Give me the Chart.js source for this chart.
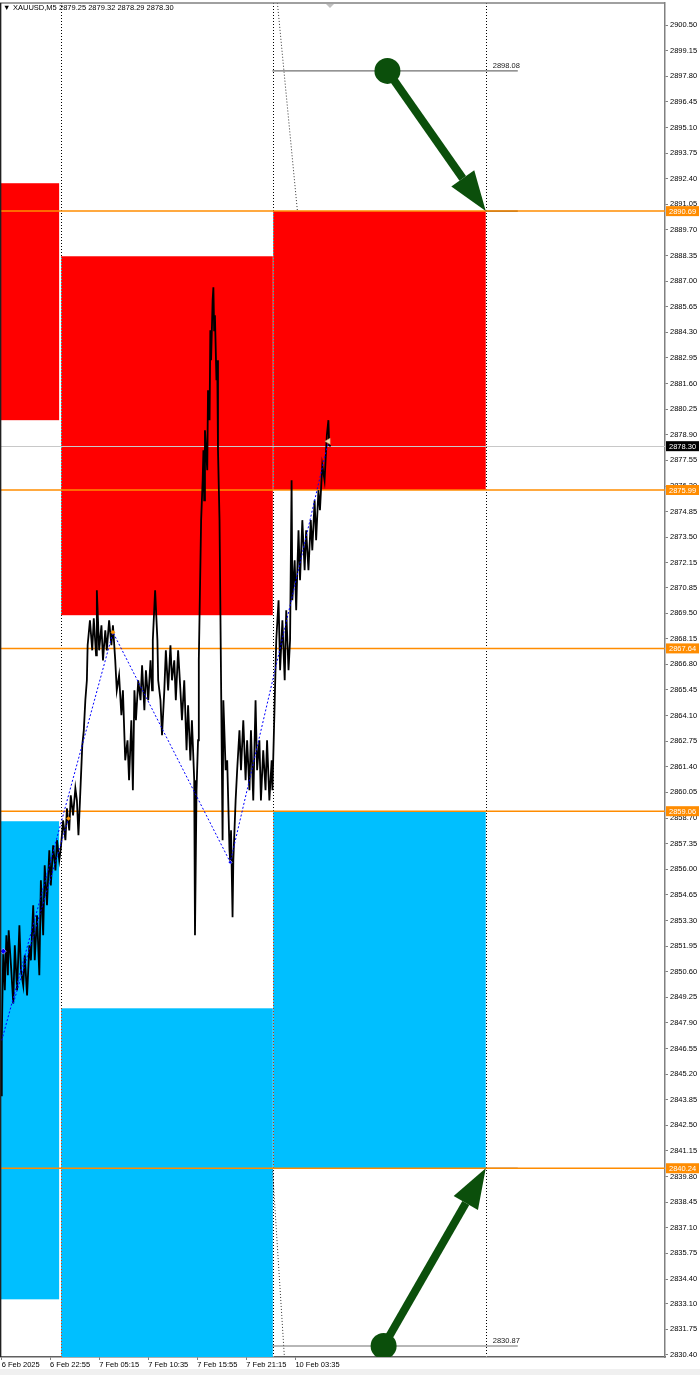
<!DOCTYPE html>
<html>
<head>
<meta charset="utf-8">
<script src="https://cdn.jsdelivr.net/npm/chart.js@4.4.1/dist/chart.umd.min.js"></script>
<style>
  html, body { margin: 0; padding: 0; background: #f0f0f0; }
  #wrap { width: 700px; height: 1375px; }
  canvas { display: block; }
</style>
</head>
<body>
<div id="wrap"><canvas id="chart" width="700" height="1369"></canvas></div>
<script>
  // XAUUSD M5, x = bar number counted from 6 Feb 22:55
  var symbolTitle = "XAUUSD,M5";
  var quoteText = "2879.25 2879.32 2878.29 2878.30";

  var timeTickBars   = [-63, 0, 64, 128, 192, 256, 320];
  var timeTickLabels = ["6 Feb 2025", "6 Feb 22:55", "7 Feb 05:15", "7 Feb 10:35", "7 Feb 15:55", "7 Feb 21:15", "10 Feb 03:35"];

  var priceTicks = [2900.50, 2899.15, 2897.80, 2896.45, 2895.10, 2893.75, 2892.40, 2891.05, 2889.70, 2888.35,
    2887.00, 2885.65, 2884.30, 2882.95, 2881.60, 2880.25, 2878.90, 2877.55, 2876.20, 2874.85, 2873.50, 2872.15,
    2870.85, 2869.50, 2868.15, 2866.80, 2865.45, 2864.10, 2862.75, 2861.40, 2860.05, 2858.70, 2857.35, 2856.00,
    2854.65, 2853.30, 2851.95, 2850.60, 2849.25, 2847.90, 2846.55, 2845.20, 2843.85, 2842.50, 2841.15, 2839.80,
    2838.45, 2837.10, 2835.75, 2834.40, 2833.10, 2831.75, 2830.40];

  var priceBars = [-64, -63, -62, -61, -59, -57, -55, -54, -51, -48, -46, -43, -40, -38, -35, -33, -30, -27, -25, -22,
    -20, -17, -14, -12, -9, -7, -4, -1, 1, 4, 7, 9, 12, 14, 17, 20, 22, 25, 27, 30, 33, 35, 37, 39, 42, 44, 46, 48, 49,
    52, 55, 57, 60, 61, 64, 67, 69, 72, 74, 77, 80, 82, 85, 87, 90, 93, 95, 98, 101, 103, 106, 108, 110, 112, 115,
    118, 120, 123, 125, 128, 131, 133, 134, 137, 140, 141, 144, 146, 149, 151, 154, 157, 159, 162, 164, 167, 170,
    172, 175, 178, 180, 183, 185, 188, 189, 191, 193, 194, 197, 199, 200, 201, 202, 205, 206, 208, 209, 210, 212,
    213, 214, 215, 217, 218, 219, 221, 222, 223, 225, 226, 229, 231, 234, 235, 236, 238, 239, 242, 244, 247, 249,
    252, 255, 257, 260, 262, 265, 268, 270, 273, 275, 278, 281, 283, 286, 289, 290, 293, 295, 298, 300, 303, 306,
    308, 311, 313, 315, 316, 319, 321, 324, 326, 329, 332, 334, 337, 340, 342, 345, 347, 350, 352, 355, 358, 361,
    363, 364, 366];
  var priceVals = [2844.08, 2846.98, 2849.62, 2851.73, 2849.62, 2852.52, 2850.41, 2852.78, 2850.94, 2848.93,
    2851.99, 2849.62, 2853.04, 2850.67, 2849.88, 2851.46, 2849.35, 2851.99, 2851.20, 2854.10, 2851.20, 2853.57,
    2850.41, 2855.42, 2852.52, 2856.21, 2854.10, 2857.00, 2855.15, 2857.26, 2855.94, 2857.53, 2856.47, 2857.10,
    2858.58, 2857.53, 2859.21, 2858.05, 2859.90, 2858.84, 2860.27, 2859.63, 2857.79, 2859.63, 2862.53, 2863.32,
    2864.91, 2865.96, 2867.81, 2869.12, 2867.54, 2869.23, 2867.28, 2870.71, 2867.54, 2868.86, 2867.01, 2868.60,
    2867.54, 2869.12, 2867.81, 2868.86, 2867.01, 2865.43, 2866.22, 2864.12, 2865.43, 2861.74, 2862.80, 2860.69,
    2863.85, 2860.16, 2865.43, 2863.85, 2865.96, 2864.91, 2866.75, 2864.38, 2866.49, 2864.91, 2867.01, 2865.43,
    2868.07, 2870.71, 2868.07, 2865.96, 2864.91, 2863.06, 2865.43, 2867.54, 2865.43, 2867.81, 2865.96, 2867.01,
    2864.91, 2867.54, 2865.43, 2863.85, 2865.96, 2862.27, 2864.64, 2861.74, 2863.85, 2860.69, 2852.52, 2860.16,
    2862.80, 2867.01, 2874.40, 2876.50, 2878.09, 2875.45, 2879.14, 2877.03, 2881.25, 2879.67, 2884.41, 2882.83,
    2885.99, 2886.68, 2884.41, 2885.20, 2881.78, 2882.83, 2878.09, 2874.40, 2870.18, 2865.96, 2857.53, 2864.91,
    2861.22, 2861.74, 2857.00, 2856.37, 2858.05, 2853.47, 2856.47, 2859.63, 2861.22, 2863.32, 2861.22, 2863.85,
    2860.69, 2862.80, 2860.16, 2863.32, 2859.63, 2864.91, 2861.22, 2862.80, 2859.63, 2862.27, 2860.16, 2862.80,
    2859.63, 2861.74, 2860.16, 2864.91, 2868.07, 2870.18, 2866.49, 2869.12, 2865.96, 2869.65, 2866.49, 2868.07,
    2876.50, 2870.18, 2872.29, 2869.65, 2873.87, 2871.23, 2874.40, 2871.76, 2873.87, 2871.76, 2874.40, 2872.81,
    2875.45, 2873.34, 2875.98, 2874.92, 2877.30, 2876.50, 2878.88, 2879.67, 2878.35, 2878.30];

  // zigzag swings
  var zigBars = [-63, 82, 235, 363];
  var zigVals = [2846.98, 2868.49, 2856.37, 2878.56];
  var zig2Bars = [-48, 24];
  var zig2Vals = [2848.93, 2858.68];

  // supply / demand zones
  var zoneFrom = [-70, 14.4, 291, -70, 14.4, 291];
  var zoneTo   = [11.8, 290.5, 568.2, 11.8, 290.5, 568.2];
  var zoneHigh = [2892.16, 2888.31, 2890.69, 2858.53, 2848.67, 2859.06];
  var zoneLow  = [2879.67, 2869.39, 2875.99, 2833.33, 2825.00, 2840.24];
  var zoneKind = ["supply", "supply", "supply", "demand", "demand", "demand"];

  var levelPrices = [2890.69, 2875.99, 2867.64, 2859.06, 2840.24];
  var lastPrice = 2878.30;
  var separatorBars = [14.4, 291.3, 568.2];

  var targetPrices = [2898.08, 2830.87];
  var targetFrom = 290;
  var targetTo = 610;
  var arrowStartBars = [440, 435];
  var arrowEndBars = [568.2, 568.2];
  var arrowEndPrices = [2890.69, 2840.24];

  var zoneColors = { supply: "#ff0000", demand: "#00bfff" };
  var FAMILY = "'Liberation Sans', Arial, sans-serif";
  var FONT = "7.5px " + FAMILY;

  function pts(xs, ys) {
    return xs.map(function(v, i) { return { x: v, y: ys[i] }; });
  }

  var mtObjects = {
    id: 'mtObjects',
    beforeDraw: function(chart) {
      var ctx = chart.ctx;
      ctx.save();
      ctx.fillStyle = '#ffffff';
      ctx.fillRect(0, 0, chart.width, chart.height);
      ctx.restore();
    },
    beforeDatasetsDraw: function(chart) {
      var ctx = chart.ctx, a = chart.chartArea, x = chart.scales.x, y = chart.scales.y;
      ctx.save();
      ctx.beginPath();
      ctx.rect(a.left, a.top, a.right - a.left, a.bottom - a.top);
      ctx.clip();

      // zones
      zoneFrom.forEach(function(f, i) {
        var x1 = x.getPixelForValue(f), x2 = x.getPixelForValue(zoneTo[i]);
        var y1 = y.getPixelForValue(zoneHigh[i]), y2 = y.getPixelForValue(zoneLow[i]);
        ctx.fillStyle = zoneColors[zoneKind[i]];
        ctx.fillRect(x1, y1, x2 - x1, y2 - y1);
      });

      // last price line
      var ly = Math.round(y.getPixelForValue(lastPrice)) + 0.5;
      ctx.strokeStyle = '#c8c8c8';
      ctx.lineWidth = 1;
      ctx.beginPath(); ctx.moveTo(a.left, ly); ctx.lineTo(a.right, ly); ctx.stroke();

      // dotted separators (xor look)
      ctx.globalCompositeOperation = 'difference';
      ctx.strokeStyle = '#ffffff';
      ctx.setLineDash([1, 2]);
      separatorBars.forEach(function(b) {
        var sx = Math.round(x.getPixelForValue(b)) + 0.5;
        ctx.beginPath(); ctx.moveTo(sx, a.top); ctx.lineTo(sx, a.bottom); ctx.stroke();
      });
      ctx.globalCompositeOperation = 'source-over';

      // fibo-ish diagonals
      ctx.strokeStyle = '#333333';
      ctx.beginPath();
      ctx.moveTo(x.getPixelForValue(296.5), a.top);
      ctx.lineTo(x.getPixelForValue(322.6), y.getPixelForValue(2890.69));
      ctx.moveTo(x.getPixelForValue(290), y.getPixelForValue(2840.24));
      ctx.lineTo(x.getPixelForValue(305.6), a.bottom);
      ctx.stroke();
      ctx.setLineDash([]);

      // target lines
      ctx.strokeStyle = '#707070';
      ctx.lineWidth = 1.2;
      targetPrices.forEach(function(p) {
        var ty = y.getPixelForValue(p);
        ctx.beginPath(); ctx.moveTo(x.getPixelForValue(targetFrom), ty); ctx.lineTo(x.getPixelForValue(targetTo), ty); ctx.stroke();
      });
      ctx.strokeStyle = '#303030';
      [levelPrices[0], levelPrices[4]].forEach(function(p) {
        var ty = y.getPixelForValue(p);
        ctx.beginPath(); ctx.moveTo(x.getPixelForValue(arrowEndBars[0]), ty); ctx.lineTo(x.getPixelForValue(targetTo), ty); ctx.stroke();
      });

      // orange levels
      ctx.strokeStyle = '#ff8c00';
      ctx.lineWidth = 1.5;
      levelPrices.forEach(function(p) {
        var oy = y.getPixelForValue(p);
        ctx.beginPath(); ctx.moveTo(a.left, oy); ctx.lineTo(a.right, oy); ctx.stroke();
      });
      ctx.restore();
    },
    afterDatasetsDraw: function(chart) {
      var ctx = chart.ctx, a = chart.chartArea, x = chart.scales.x, y = chart.scales.y;
      ctx.save();
      ctx.beginPath();
      ctx.rect(a.left, a.top, a.right - a.left, a.bottom - a.top);
      ctx.clip();

      // target labels
      ctx.font = FONT;
      ctx.fillStyle = '#202020';
      ctx.textBaseline = 'bottom';
      targetPrices.forEach(function(p) {
        ctx.fillText(p.toFixed(2), x.getPixelForValue(arrowEndBars[0]) + 7, y.getPixelForValue(p) - 1);
      });

      // green arrows
      targetPrices.forEach(function(p, i) {
        var sx = x.getPixelForValue(arrowStartBars[i]), sy = y.getPixelForValue(p);
        var ex = x.getPixelForValue(arrowEndBars[i]), ey = y.getPixelForValue(arrowEndPrices[i]);
        var ang = Math.atan2(ey - sy, ex - sx);
        var headLen = 40, headW = 14;
        var bx = ex - Math.cos(ang) * headLen, by = ey - Math.sin(ang) * headLen;
        ctx.fillStyle = '#0b4f0b';
        ctx.strokeStyle = '#0b4f0b';
        ctx.lineWidth = 8;
        ctx.lineCap = 'butt';
        ctx.beginPath(); ctx.moveTo(sx, sy); ctx.lineTo(bx, by); ctx.stroke();
        ctx.beginPath();
        ctx.moveTo(ex, ey);
        ctx.lineTo(bx + Math.sin(ang) * headW, by - Math.cos(ang) * headW);
        ctx.lineTo(bx - Math.sin(ang) * headW, by + Math.cos(ang) * headW);
        ctx.closePath(); ctx.fill();
        ctx.beginPath(); ctx.arc(sx, sy, 13, 0, Math.PI * 2); ctx.fill();
      });
      ctx.restore();

      // header
      ctx.save();
      ctx.font = FONT;
      ctx.fillStyle = '#000000';
      ctx.textBaseline = 'middle';
      ctx.fillText('\u25BC', 3, 8);
      ctx.fillText(symbolTitle, 13, 8);
      ctx.fillText(quoteText, 59, 8);
      ctx.fillStyle = '#c0c0c0';
      ctx.beginPath();
      ctx.moveTo(326, a.top + 1); ctx.lineTo(334, a.top + 1); ctx.lineTo(330, a.top + 5); ctx.closePath(); ctx.fill();
      ctx.restore();
    },
    afterDraw: function(chart) {
      var ctx = chart.ctx, a = chart.chartArea, y = chart.scales.y;
      ctx.save();
      // frame
      ctx.strokeStyle = '#808080';
      ctx.lineWidth = 1.5;
      ctx.beginPath(); ctx.moveTo(0, a.top); ctx.lineTo(a.right, a.top); ctx.stroke();
      ctx.strokeStyle = '#202020';
      ctx.beginPath(); ctx.moveTo(0.6, a.top); ctx.lineTo(0.6, a.bottom); ctx.stroke();

      // price boxes on the axis
      ctx.font = FONT;
      ctx.textBaseline = 'middle';
      function box(p, bg) {
        var by = y.getPixelForValue(p);
        ctx.fillStyle = bg;
        ctx.fillRect(a.right + 1, by - 5, 33, 10);
        ctx.fillStyle = '#ffffff';
        ctx.fillText(p.toFixed(2), a.right + 4, by + 0.5);
      }
      levelPrices.forEach(function(p) { box(p, '#ff8c00'); });
      box(lastPrice, '#000000');
      ctx.restore();
    }
  };

  var ctx = document.getElementById('chart').getContext('2d');
  var chart = new Chart(ctx, {
    type: 'line',
    data: {
      datasets: [
        {
          data: pts(priceBars, priceVals),
          borderColor: '#000000',
          borderWidth: 1.8,
          pointRadius: 0,
          tension: 0,
          order: 3
        },
        {
          data: pts(zigBars, zigVals),
          borderColor: '#0000ff',
          borderWidth: 1,
          borderDash: [2, 2],
          pointRadius: 0,
          order: 2
        },
        {
          data: pts(zig2Bars, zig2Vals),
          borderColor: '#0000ff',
          borderWidth: 1,
          borderDash: [2, 2],
          pointRadius: 0,
          order: 2
        },
        {
          type: 'scatter',
          data: [
            { x: -61, y: 2851.68 }, { x: 24, y: 2858.68 }, { x: 82, y: 2868.49 },
            { x: 235, y: 2856.37 }, { x: 363, y: 2878.56 }
          ],
          pointStyle: ['rectRot', 'rectRot', 'rectRot', 'rectRot', 'triangle'],
          rotation: [0, 0, 0, 0, -90],
          pointRadius: [3, 2, 2, 2, 3.5],
          backgroundColor: ['#0000ff', '#ff9900', '#ff9900', '#0000ff', '#f5deb3'],
          borderColor: ['#ffffff', '#ff9900', '#ff9900', '#ffffff', '#c8a870'],
          borderWidth: 0.5,
          order: 1
        }
      ]
    },
    options: {
      responsive: false,
      animation: false,
      layout: { autoPadding: false, padding: { left: 1, top: 3, right: 0, bottom: 0 } },
      plugins: { legend: { display: false }, tooltip: { enabled: false } },
      scales: {
        x: {
          type: 'linear',
          position: 'bottom',
          min: -64,
          max: 802,
          afterBuildTicks: function(axis) {
            axis.ticks = timeTickBars.map(function(v) { return { value: v }; });
          },
          afterFit: function(s) { s.height = 12; s.paddingLeft = 0; s.paddingRight = 0; },
          ticks: {
            autoSkip: false,
            maxRotation: 0,
            align: 'start',
            padding: 0,
            color: '#000000',
            font: { family: FAMILY, size: 7.5 },
            callback: function(v) { return timeTickLabels[timeTickBars.indexOf(v)]; }
          },
          grid: { drawOnChartArea: false, tickLength: 3, color: '#808080' },
          border: { color: '#606060', width: 1.5 }
        },
        y: {
          type: 'linear',
          position: 'right',
          min: 2830.29,
          max: 2901.66,
          afterBuildTicks: function(axis) {
            axis.ticks = priceTicks.map(function(v) { return { value: v }; });
          },
          afterFit: function(s) { s.width = 35; s.paddingTop = 0; s.paddingBottom = 0; },
          ticks: {
            autoSkip: false,
            padding: 2,
            color: '#000000',
            font: { family: FAMILY, size: 7.5 },
            callback: function(v) { return v.toFixed(2); }
          },
          grid: { drawOnChartArea: false, tickLength: 3, color: '#808080' },
          border: { color: '#808080', width: 1.5 }
        }
      }
    },
    plugins: [mtObjects]
  });
</script>
</body>
</html>
